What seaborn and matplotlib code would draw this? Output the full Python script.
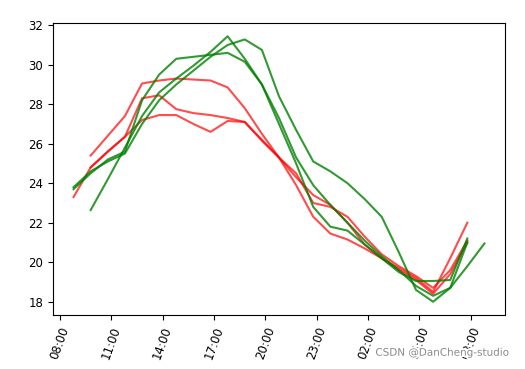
import numpy as np
import pandas as pd
import matplotlib
matplotlib.use("Agg")
import matplotlib.pyplot as plt
import matplotlib.dates as mdates
import matplotlib.patheffects as pe
import seaborn as sns

# hourly readings, one list per day (nan = no reading at that hour)
nan = np.nan
times = pd.date_range("2021-06-01 08:48", periods=25, freq="h")

red_1 = [23.3, 24.8, 25.6, 26.35, 27.2, 27.45, 27.45, 27.0, 26.6, 27.15, 27.1, 26.2, 25.3,
         23.9, 22.3, 21.45, 21.15, 20.7, 20.2, 19.6, 19.1, 18.4, 19.4, 21.0, nan]
red_2 = [nan, 25.4, 26.4, 27.4, 29.05, 29.2, 29.3, 29.25, 29.2, 28.85, 27.8, 26.5, 25.3,
         24.3, 23.4, 22.9, 22.0, 20.9, 20.2, 19.7, 19.2, 18.5, 20.2, 22.0, nan]
red_3 = [nan, 24.8, 25.6, 26.35, 28.3, 28.45, 27.75, 27.55, 27.45, 27.3, 27.1, 26.15, 25.3,
         24.5, 23.0, 22.8, 22.3, 21.3, 20.4, 19.8, 19.3, 18.7, 19.6, 21.1, nan]

green_1 = [23.8, 24.6, 25.1, 25.5, 27.0, 28.2, 29.0, 29.7, 30.4, 31.0, 31.28, 30.75, 28.4,
           26.7, 25.1, 24.6, 24.0, 23.2, 22.3, 20.5, 18.6, 18.0, 18.7, 19.8, 20.95]
green_2 = [nan, 22.64, 24.2, 25.8, 27.4, 28.6, 29.3, 29.95, 30.65, 31.44, 30.3, 29.0, 27.3,
           25.3, 23.9, 22.9, 22.0, 21.1, 20.3, 19.6, 18.8, 18.3, 18.7, 21.0, nan]
green_3 = [23.7, 24.5, 25.2, 25.6, 28.2, 29.5, 30.3, 30.4, 30.5, 30.6, 30.15, 29.0, 27.0,
           25.0, 22.8, 21.8, 21.6, 20.9, 20.2, 19.5, 19.05, 19.05, 19.1, 21.2, nan]

reds = [red_1, red_2, red_3]
greens = [green_1, green_2, green_3]

fig = plt.figure(figsize=(5.25, 3.69), dpi=100)
ax = fig.add_axes([53 / 525, 54 / 369, 452 / 525, 292 / 369])

for vals in reds:
    sns.lineplot(x=times, y=vals, color="red", alpha=0.7, linewidth=1.5, ax=ax)
for vals in greens:
    sns.lineplot(x=times, y=vals, color="green", alpha=0.8, linewidth=1.5, ax=ax)

ax.xaxis.set_major_locator(mdates.HourLocator(byhour=[2, 5, 8, 11, 14, 17, 20, 23]))
ax.xaxis.set_major_formatter(mdates.DateFormatter("%H:%M"))
ax.set_yticks([18, 20, 22, 24, 26, 28, 30, 32])
ax.tick_params(labelsize=8.5)
plt.setp(ax.get_xticklabels(), rotation=70)
ax.set_xlabel("")
ax.set_ylabel("")

fig.text(0.715, 0.036, "CSDN @DanCheng-studio", fontsize=7.5, color="#8a8a8a",
         path_effects=[pe.withStroke(linewidth=2.5, foreground="white")])

fig.savefig("out.png", dpi=100)
